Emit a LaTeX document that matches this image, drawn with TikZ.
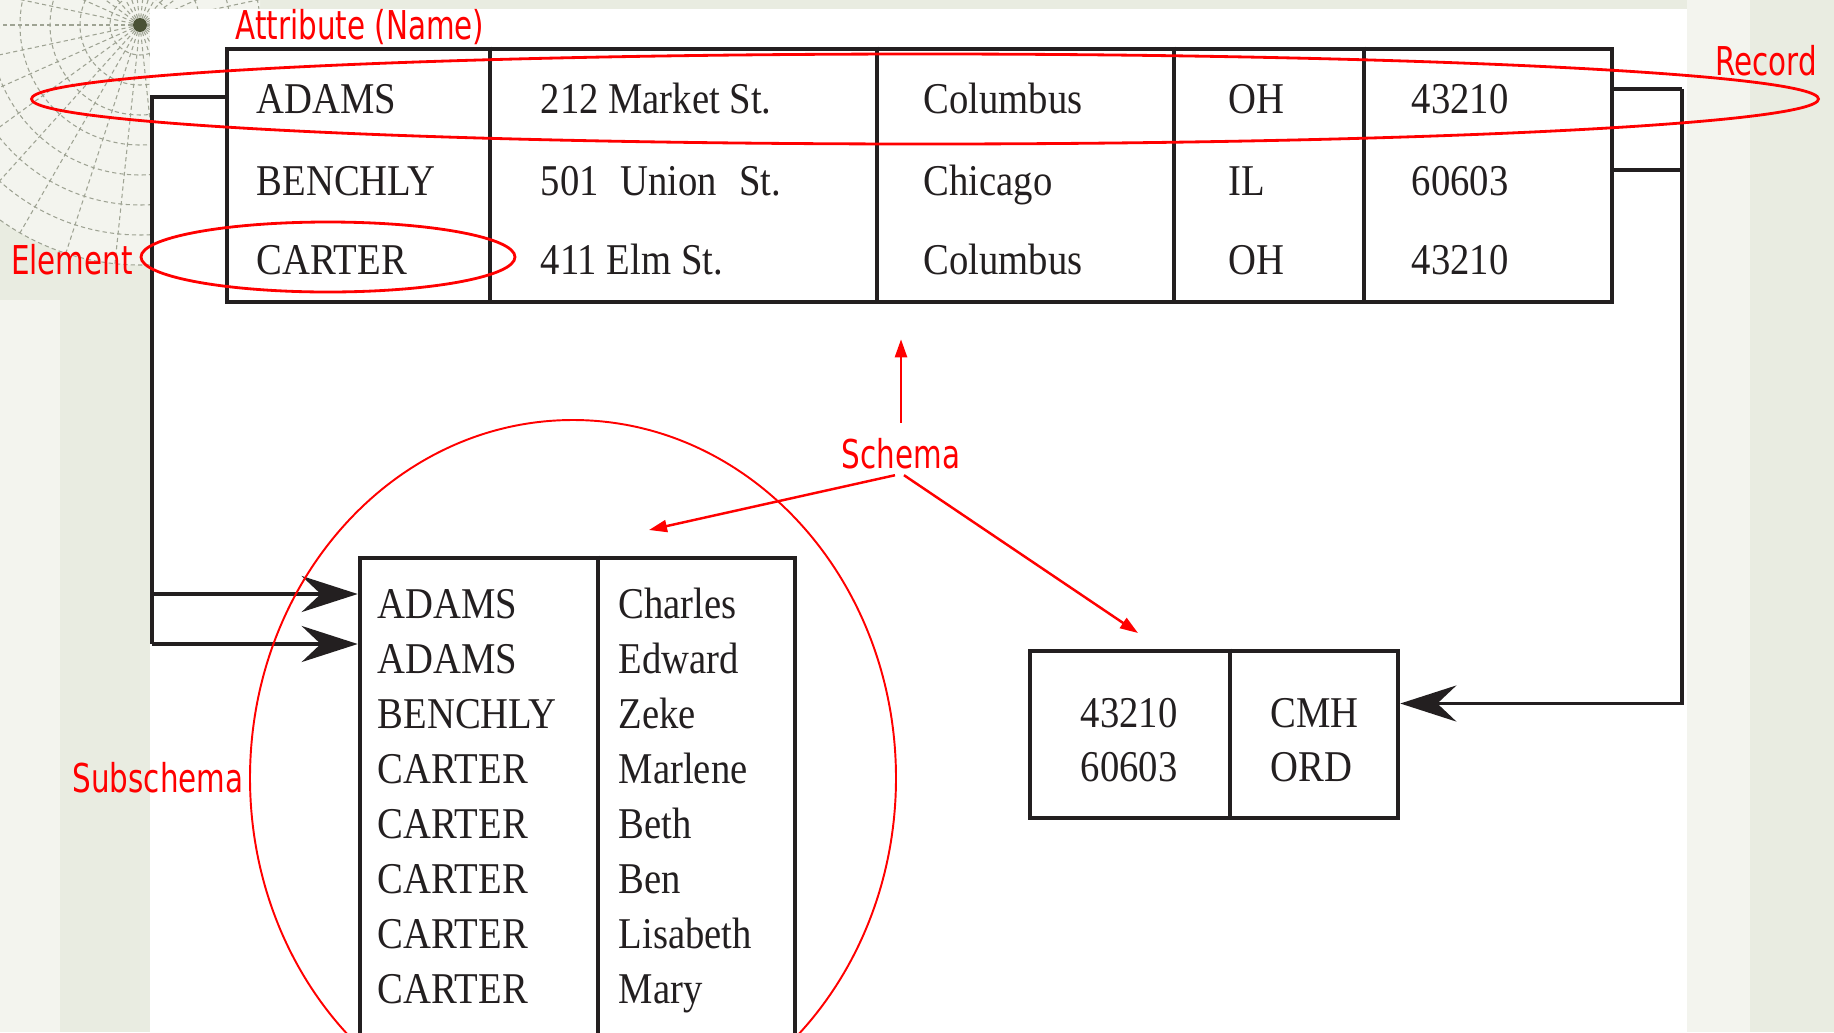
\documentclass[tikz,border=0pt]{standalone}
\usepackage{fontspec}
\usetikzlibrary{arrows.meta,positioning,calc}
\newfontfamily\cellfont{Liberation Serif}[FakeStretch=0.88]
\newfontfamily\notefont{DejaVu Sans}[FakeStretch=0.74]
\definecolor{ink}{HTML}{231F20}
\definecolor{notered}{HTML}{FF0000}
\definecolor{slidebg}{HTML}{E9ECE1}
\definecolor{slidelight}{HTML}{F3F4EE}
\definecolor{gridgray}{HTML}{9EA393}
\definecolor{globedot}{HTML}{4A5236}

\begin{document}
\begin{tikzpicture}[
  x=0.1mm, y=-0.1mm,
  cell/.style    = {font=\cellfont\fontsize{12.5}{15}\selectfont, text=ink, anchor=west,
                    inner sep=0pt, text height=2.9mm, text depth=0pt},
  tab/.style     = {draw=ink, line width=1.3pt, inner sep=0pt},
  divider/.style = {draw=ink, line width=1.1pt},
  note/.style    = {font=\notefont\fontsize{11.3}{13}\selectfont, text=notered,
                    inner sep=0.6mm, text height=2.9mm, text depth=0pt},
  wire/.style    = {draw=ink, line width=1.1pt},
  feed/.style    = {wire, -{Stealth[length=5.6mm, width=3.6mm, inset=1.9mm]}},
  ring/.style    = {draw=notered, line width=0.8pt},
  pointer/.style = {draw=notered, line width=0.7pt, -{Triangle[length=1.8mm, width=1.2mm]}},
  gridline/.style= {draw=gridgray, line width=0.3pt, dash pattern=on 1.2pt off 0.9pt},
]
\useasboundingbox (0,0) rectangle (1834,1032);
\clip (0,0) rectangle (1834,1032);

% --- slide background --------------------------------------------------------------------------
\fill[slidebg] (0,0) rectangle (1834,1032);
\fill[slidelight] (1687,0) rectangle (1750,1032);
\fill[slidelight] (0,300) rectangle (60,1032);
\begin{scope}
  \clip (0,0) rectangle (260,300);
  \fill[slidelight] (140,25) circle [radius=24mm];
  \foreach \r in {3,6,...,24} \draw[gridline] (140,25) circle [radius=\r mm];
  \foreach \a in {0,12,...,348} \draw[gridline] (140,25) -- ++(\a:24mm);
  \fill[globedot] (140,25) circle [radius=0.7mm];
\end{scope}
\fill[white] (150,9) rectangle (1687,1032);

% --- the master table --------------------------------------------------------------------------
\node[tab, minimum width=138.5mm, minimum height=25.3mm] (master) at (919.5,175.5) {};
\foreach \x in {490,877,1174,1364}
  \draw[divider] (\x,0 |- master.north) -- (\x,0 |- master.south);

\foreach \x/\a/\b/\c [count=\k] in {256/ADAMS/BENCHLY/CARTER,
    540/212 Market St./501\enspace Union\enspace St./411 Elm St.,
    923/Columbus/Chicago/Columbus, 1228/OH/IL/OH, 1411/43210/60603/43210} {
  \node[cell] (a\k) at (\x,99)  {\a};
  \node[cell] (b\k) at (\x,181) {\b};
  \node[cell] (c\k) at (\x,260) {\c};
}

% --- subschema table (names) -------------------------------------------------------------------
\node[tab, minimum width=43.5mm, minimum height=52.2mm] (subtab) at (577.5,819) {};
\draw[divider] (598,0 |- subtab.north) -- (598,0 |- subtab.south);
\foreach \last/\first [count=\i] in {ADAMS/Charles, ADAMS/Edward, BENCHLY/Zeke,
    CARTER/Marlene, CARTER/Beth, CARTER/Ben, CARTER/Lisabeth, CARTER/Mary} {
  \node[cell] (s\i) at (377,549+55*\i) {\last};
  \node[cell] (f\i) at (618,549+55*\i) {\first};
}

% --- zip code table ----------------------------------------------------------------------------
\node[tab, minimum width=36.8mm, minimum height=16.7mm] (zipbox) at (1214,734.5) {};
\draw[divider] (1230,0 |- zipbox.north) -- (1230,0 |- zipbox.south);
\node[cell] (z1) at (1080,713) {43210};
\node[cell] (z2) at (1080,767) {60603};
\node[cell] (z3) at (1270,713) {CMH};
\node[cell] (z4) at (1270,767) {ORD};

% --- black links -------------------------------------------------------------------------------
\coordinate (busL) at (152,0);
\coordinate (busR) at (1682,0);
\coordinate (inA) at ([yshift=1mm]subtab.west |- s1);
\coordinate (inB) at ([yshift=1.5mm]subtab.west |- s2);

\draw[wire] ([yshift=0.2mm]master.west |- a1) -| (busL |- inB);
\draw[feed] (busL |- inA) -- (inA);
\draw[feed] (busL |- inB) -- (inB);

\draw[wire] ([yshift=1mm]master.east |- a5) -- ([yshift=1mm]busR |- a5);
\draw[wire] ([yshift=1.1mm]master.east |- b5) -- ([yshift=1.1mm]busR |- b5);
\draw[feed] ([yshift=1mm]busR |- a5) |- ([yshift=3.1mm]zipbox.east);

% --- red marks ---------------------------------------------------------------------------------
\draw[ring] (925,99) ellipse [x radius=89.35mm, y radius=4.5mm];
\draw[ring] (328,257) ellipse [x radius=18.7mm, y radius=3.5mm];
\draw[ring, line width=0.55pt] (573,778) ellipse [x radius=32.3mm, y radius=35.8mm];

\node[note] (attr)   at (360,25)  {Attribute (Name)};
\node[note] (rec)    at (1766,61) {Record};
\node[note] (elem)   at (72,260)  {Element};
\node[note] (schema) at (901,454) {Schema};
\node[note] (subs)   at (158,778) {Subschema};

\coordinate (upTip)  at ([yshift=-3.5mm]master.south -| schema);
\coordinate (subTip) at (649,530);
\coordinate (zipTip) at (1138,633);
\draw[pointer] ([yshift=1mm]schema.north) -- (upTip);
\draw[pointer] ([xshift=-0.6mm]schema.south) -- (subTip);
\draw[pointer] ([xshift=0.3mm]schema.south) -- (zipTip);

\end{tikzpicture}
\end{document}
